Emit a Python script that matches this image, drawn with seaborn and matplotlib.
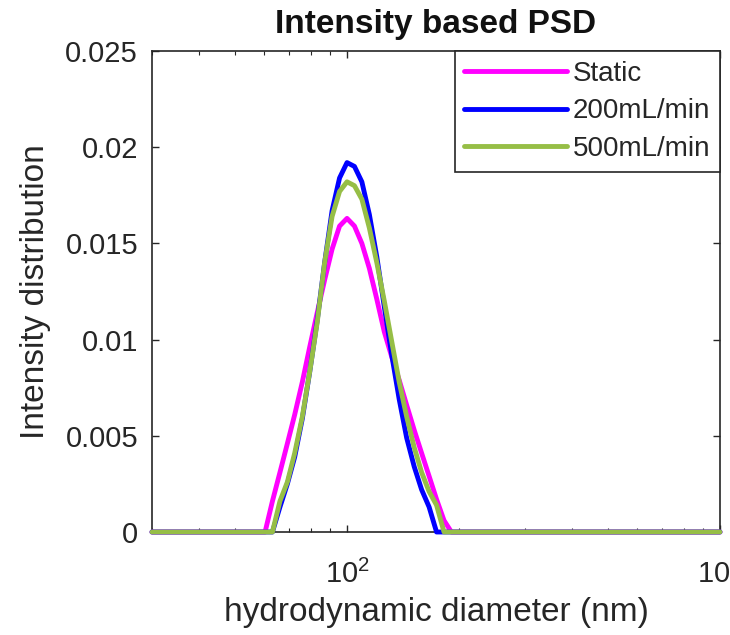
import matplotlib
matplotlib.use("Agg")
import matplotlib.pyplot as plt
import matplotlib.ticker as mticker
import pandas as pd
import seaborn as sns

# Particle size distribution (intensity weighted) for three flow conditions
diameter_nm = [30, 57.5, 60.3, 63.1, 66.1, 69.2, 72.4, 75.9, 79.4, 83.2,
               87.1, 91.2, 95.5, 100.0, 104.7, 109.6, 114.8, 120.2, 125.9, 131.8,
               138.0, 144.5, 151.4, 158.5, 166.0, 173.8, 182.0, 190.5, 199.5, 1000]

static = [0, 0, 0, 0.0016, 0.0031, 0.0046, 0.0061, 0.0078, 0.0096, 0.0114,
          0.0131, 0.0147, 0.0159, 0.0163, 0.0159, 0.0150, 0.0137, 0.0121, 0.0104, 0.0091,
          0.0079, 0.0066, 0.0053, 0.0041, 0.0029, 0.0017, 0.0006, 0, 0, 0]

flow_200 = [0, 0, 0, 0, 0.0013, 0.0025, 0.0039, 0.0059, 0.0083, 0.0110,
            0.0140, 0.0167, 0.0184, 0.0192, 0.0190, 0.0182, 0.0165, 0.0143, 0.0117, 0.0092,
            0.0069, 0.0049, 0.0034, 0.0022, 0.0013, 0, 0, 0, 0, 0]

flow_500 = [0, 0, 0, 0, 0.0016, 0.0026, 0.0041, 0.0060, 0.0083, 0.0109,
            0.0140, 0.0164, 0.0177, 0.0182, 0.0180, 0.0173, 0.0158, 0.0140, 0.0120, 0.0099,
            0.0078, 0.0060, 0.0044, 0.0031, 0.0021, 0.0014, 0, 0, 0, 0]

series_labels = ["Static", "200mL/min", "500mL/min"]
series_colors = ["#FF00FF", "#0000FF", "#96BE46"]

y_ticks = [0, 0.005, 0.01, 0.015, 0.02, 0.025]
y_tick_labels = ["0", "0.005", "0.01", "0.015", "0.02", "0.025"]

# long-form table for seaborn
frames = []
for name, vals in zip(series_labels, [static, flow_200, flow_500]):
    frames.append(pd.DataFrame({"diameter": diameter_nm, "intensity": vals, "sample": name}))
df = pd.concat(frames, ignore_index=True)

sns.set_theme(style="white")
plt.rcParams["font.family"] = ["Liberation Sans", "DejaVu Sans"]
plt.rcParams["mathtext.fontset"] = "custom"
plt.rcParams["mathtext.rm"] = "Liberation Sans"

ink = "#262626"

fig, ax = plt.subplots(figsize=(7.3, 6.35), dpi=100)
fig.subplots_adjust(left=0.2082, right=0.9863, bottom=0.1622, top=0.9197)

sns.lineplot(data=df, x="diameter", y="intensity", hue="sample",
             hue_order=series_labels, palette=series_colors,
             linewidth=3.5, sort=False, estimator=None, ax=ax)

for ln in ax.lines:
    ln.set_clip_on(False)
    ln.set_zorder(3)
    ln.set_solid_joinstyle("round")

ax.set_xscale("log")
ax.set_xlim(30, 1000)
ax.set_ylim(0, 0.025)
ax.xaxis.set_minor_formatter(mticker.NullFormatter())
ax.yaxis.set_major_locator(mticker.FixedLocator(y_ticks))
ax.set_yticklabels(y_tick_labels)

for sp in ax.spines.values():
    sp.set_visible(True)
    sp.set_color(ink)
    sp.set_linewidth(1.2)

ax.tick_params(which="both", direction="in", top=True, right=True,
               bottom=True, left=True, colors=ink, labelcolor=ink)
ax.tick_params(which="major", length=5, width=1, labelsize=21)
ax.tick_params(which="minor", length=3, width=0.8)
ax.tick_params(axis="x", which="major", pad=20)
ax.tick_params(axis="y", which="major", pad=10)

ax.set_xlabel("hydrodynamic diameter (nm)", fontsize=24, color=ink, labelpad=6)
ax.set_ylabel("Intensity distribution", fontsize=24, color=ink, labelpad=10)
ax.set_title("Intensity based PSD", fontsize=24, fontweight="bold", color="#111111", pad=13)

handles, labels = ax.get_legend_handles_labels()
leg = ax.legend(handles, labels, loc="upper right", borderaxespad=0, fontsize=20,
                handlelength=3.7, handletextpad=0.2, labelspacing=0.42, borderpad=0.35,
                frameon=True, fancybox=False, framealpha=1, edgecolor=ink)
leg.get_frame().set_linewidth(1.2)
for t in leg.get_texts():
    t.set_color(ink)
for h in leg.get_lines():
    h.set_linewidth(3.5)

fig.savefig("out.png", dpi=100)
